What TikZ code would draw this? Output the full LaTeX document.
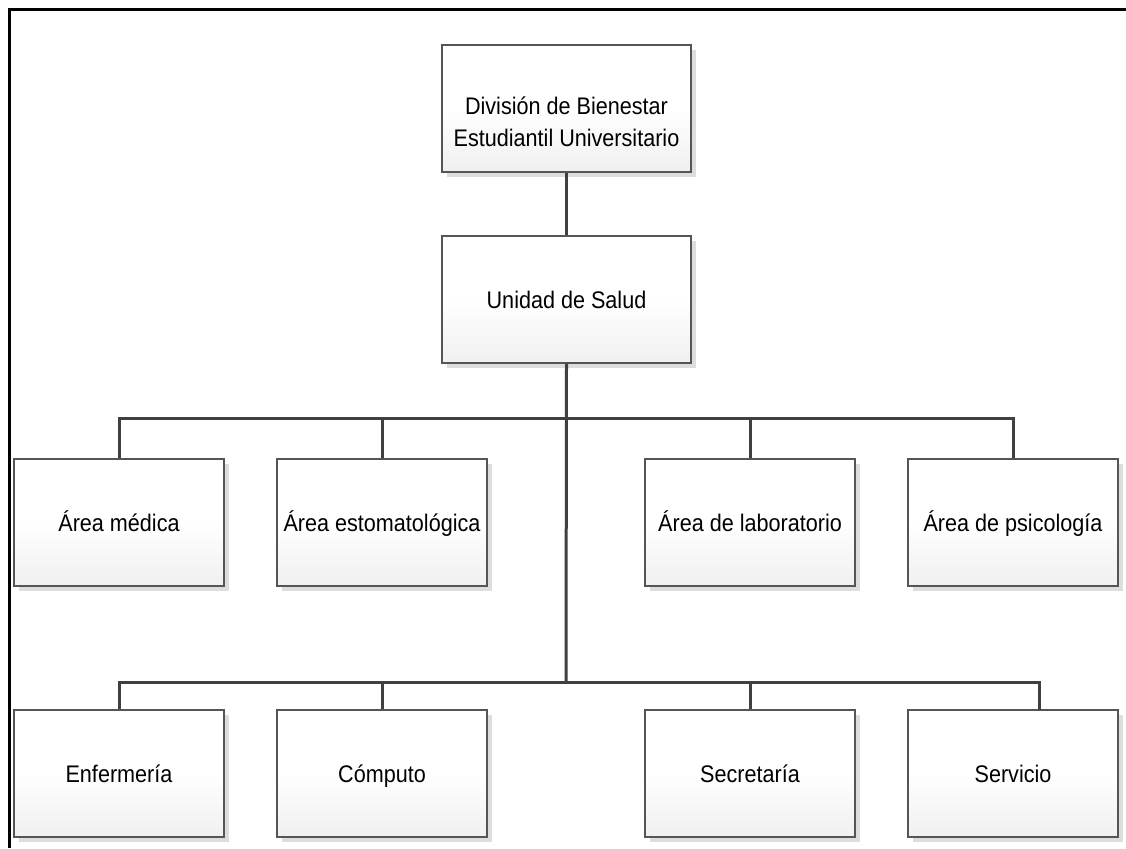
\documentclass[tikz,border=0pt]{standalone}
\usepackage{fontspec}
\setmainfont[FakeStretch=0.9]{Liberation Sans}
\usetikzlibrary{shadows}
\definecolor{boxline}{HTML}{555555}
\definecolor{linkline}{HTML}{404040}
\definecolor{shadowgray}{HTML}{DDDDDD}
\definecolor{fadegray}{HTML}{F0F0F0}
\tikzset{
  labeltext/.style={font=\fontsize{24}{32}\selectfont, align=center},
  unitbox/.style={draw=boxline, line width=1.3pt, rectangle,
    minimum width=210pt, minimum height=127pt, inner sep=0pt,
    top color=white, bottom color=fadegray, middle color=white,
    labeltext, text height=22pt, text depth=5pt,
    drop shadow={shadow xshift=5pt, shadow yshift=-5pt, fill=shadowgray, opacity=1}},
  topbox/.style={unitbox, minimum width=249pt},
  link/.style={draw=linkline, line width=3pt}
}
\begin{document}
\begin{tikzpicture}[x=1pt, y=-1pt]
  \useasboundingbox (0,0) rectangle (1126,848);
  % outer frame (top and left edges)
  \draw[line width=3pt] (9,848) -- (9,10) -- (1126,10);

  % boxes
  \node[topbox] (div) at (566.5,108.5) {};
  \node[labeltext, inner sep=0pt] (divtext) at ([yshift=-13pt]div.center)
    {División de Bienestar\\Estudiantil Universitario};
  \node[topbox] (uni) at (566.5,299.5) {Unidad de Salud};

  \node[unitbox] (med) at (119,522.5) {Área médica};
  \node[unitbox] (est) at (382,522.5) {Área estomatológica};
  \node[unitbox] (lab) at (750,522.5) {Área de laboratorio};
  \node[unitbox] (psi) at (1013,522.5) {Área de psicología};

  \node[unitbox] (enf) at (119,773.5) {Enfermería};
  \node[unitbox] (com) at (382,773.5) {Cómputo};
  \node[unitbox] (sec) at (750,773.5) {Secretaría};
  \node[unitbox] (ser) at (1013,773.5) {Servicio};

  % bus levels
  \coordinate (busA) at (566,418);
  \coordinate (busB) at (566,682);
  \coordinate (serTop) at (1039,710);

  % connectors
  \draw[link] (div.south) -- (uni.north);
  \draw[link] (uni.south) -- (busB);

  \draw[link] (med.north) -- (med.north |- busA) -- (psi.north |- busA) -- (psi.north);
  \draw[link] (est.north) -- (est.north |- busA);
  \draw[link] (lab.north) -- (lab.north |- busA);

  \draw[link] (enf.north) -- (enf.north |- busB) -- (serTop |- busB) -- (serTop);
  \draw[link] (com.north) -- (com.north |- busB);
  \draw[link] (sec.north) -- (sec.north |- busB);
\end{tikzpicture}
\end{document}
